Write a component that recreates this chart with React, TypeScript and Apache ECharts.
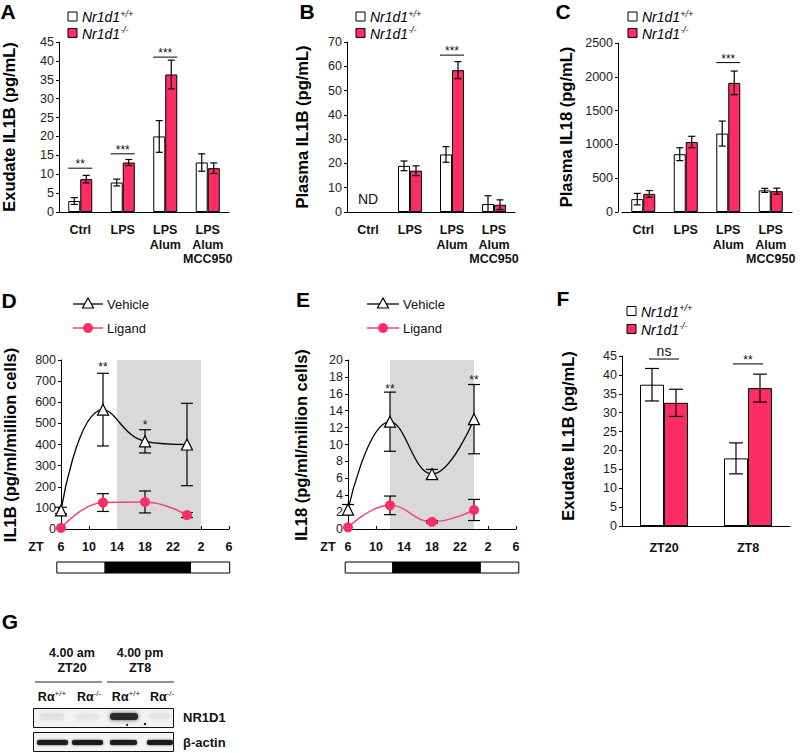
import React, { useEffect, useRef } from "react";
import * as echarts from "echarts";

const FONT = '"Liberation Sans", Arial, Helvetica, sans-serif';
const PINK = "#fb2d64";
const PINK_LINE = "#f2447c";

// ---------- data ----------
const barCategories = ["Ctrl", "LPS", "LPS\nAlum", "LPS\nAlum\nMCC950"];

// A: Exudate IL1B (pg/mL)
const aWild = [2.9, 7.8, 20.0, 13.1];
const aWildErr = [0.9, 0.9, 4.2, 2.3];
const aKO = [8.7, 13.1, 36.4, 11.6];
const aKOErr = [1.0, 0.8, 3.8, 1.4];
const aSig: [number, number, string][] = [[0, 11.6, "**"], [1, 15.4, "***"], [2, 41.0, "***"]];

// B: Plasma IL1B (pg/mL)
const bWild = [null, 19.0, 23.7, 3.3];
const bWildErr = [null, 2.0, 3.2, 3.4];
const bKO = [null, 17.0, 58.4, 3.0];
const bKOErr = [null, 2.0, 3.5, 2.0];
const bSig: [number, number, string][] = [[2, 64.6, "***"]];
const bNotDetected: [number, string][] = [[0, "ND"]];

// C: Plasma IL18 (pg/mL)
const cWild = [190, 855, 1160, 320];
const cWildErr = [85, 95, 185, 30];
const cKO = [268, 1035, 1910, 308];
const cKOErr = [50, 85, 175, 45];
const cSig: [number, number, string][] = [[2, 2210, "***"]];

// D: IL1B (pg/ml/million cells) vs ZT
const dVehicle = [[6, 88], [12, 565], [18, 415], [24, 400]];
const dVehicleErr = [15, 172, 55, 195];
const dLigand = [[6, 5], [12, 125], [18, 128], [24, 66]];
const dLigandErr = [0, 42, 52, 12];
const dStars: [number, number, string][] = [[12, 781, "**"], [18, 506, "*"]];
const dDark = [14, 26];
const dPhase = [5.4, 12.3, 24.5, 30.1];

// E: IL18 (pg/ml/million cells) vs ZT
const eVehicle = [[6, 2.3], [12, 12.7], [18, 6.5], [24, 13.0]];
const eVehicleErr = [0.6, 3.5, 0.55, 4.1];
const eLigand = [[6, 0.2], [12, 2.8], [18, 0.85], [24, 2.25]];
const eLigandErr = [0, 1.1, 0.15, 1.25];
const eStars: [number, number, string][] = [[12, 16.9, "**"], [24, 18.0, "**"]];
const eDark = [12, 24];
const ePhase = [5.6, 12.4, 24.9, 30.4];

// F: Exudate IL1B by time
const fCategories = ["ZT20", "ZT8"];
const fWild = [37.4, 17.9];
const fWildErr = [4.3, 4.1];
const fKO = [32.6, 36.5];
const fKOErr = [3.6, 3.7];
const fSig: [number, number, string][] = [[0, 44.2, "ns"], [1, 42.9, "**"]];

const ztLabel = (v: number) => String(v > 24 ? v - 24 : v);

// ---------- helpers ----------
function errData(vals: (number | null)[], errs: (number | null)[]) {
  const out: number[][] = [];
  vals.forEach((v, i) => {
    if (v != null && errs[i] != null) out.push([i, v, errs[i] as number]);
  });
  return out;
}
function xyErrData(pts: number[][], errs: number[]) {
  return pts.map((p, i) => [p[0], p[1], errs[i]]).filter((d) => d[2] > 0);
}

function errorBarSeries(xi: number, data: number[][], offset: number, cap: number, z = 5) {
  return {
    type: "custom",
    xAxisIndex: xi,
    yAxisIndex: xi,
    z,
    silent: true,
    data,
    renderItem: (params: any, api: any) => {
      const x = api.value(0);
      const v = api.value(1);
      const e = api.value(2);
      const top = api.coord([x, v + e]);
      const bot = api.coord([x, Math.max(0, v - e)]);
      const cx = top[0] + offset;
      const st = { stroke: "#000", lineWidth: 1.2 };
      return {
        type: "group",
        children: [
          { type: "line", shape: { x1: cx, y1: top[1], x2: cx, y2: bot[1] }, style: st },
          { type: "line", shape: { x1: cx - cap, y1: top[1], x2: cx + cap, y2: top[1] }, style: st },
          { type: "line", shape: { x1: cx - cap, y1: bot[1], x2: cx + cap, y2: bot[1] }, style: st },
        ],
      };
    },
  };
}

function sigSeries(xi: number, sig: [number, number, string][], half: number) {
  return {
    type: "custom",
    xAxisIndex: xi,
    yAxisIndex: xi,
    z: 6,
    silent: true,
    clip: false,
    data: sig.map((s) => [s[0], s[1]]),
    renderItem: (params: any, api: any) => {
      const p = api.coord([api.value(0), api.value(1)]);
      const txt = sig[params.dataIndex][2];
      const isNs = txt === "ns";
      return {
        type: "group",
        children: [
          { type: "line", shape: { x1: p[0] - half, y1: p[1], x2: p[0] + half, y2: p[1] }, style: { stroke: "#000", lineWidth: 1 } },
          {
            type: "text",
            x: p[0],
            y: p[1] - (isNs ? 8 : 4),
            style: {
              text: txt,
              fontFamily: FONT,
              fontSize: isNs ? 14 : 12,
              fill: "#111",
              align: "center",
              verticalAlign: "middle",
            },
          },
        ],
      };
    },
  };
}

function starSeries(xi: number, stars: [number, number, string][]) {
  return {
    type: "custom",
    xAxisIndex: xi,
    yAxisIndex: xi,
    z: 6,
    silent: true,
    clip: false,
    data: stars.map((s) => [s[0], s[1]]),
    renderItem: (params: any, api: any) => {
      const p = api.coord([api.value(0), api.value(1)]);
      return {
        type: "text",
        x: p[0],
        y: p[1] + 3,
        style: { text: stars[params.dataIndex][2], fontFamily: FONT, fontSize: 12, fill: "#111", align: "center", verticalAlign: "middle" },
      };
    },
  };
}

function phaseSeries(xi: number, edges: number[]) {
  const data = [[edges[0], edges[1], 0], [edges[1], edges[2], 1], [edges[2], edges[3], 0]];
  return {
    type: "custom",
    xAxisIndex: xi,
    yAxisIndex: xi,
    silent: true,
    clip: false,
    data,
    renderItem: (params: any, api: any) => {
      const a = api.coord([api.value(0), 0]);
      const b = api.coord([api.value(1), 0]);
      const dark = api.value(2) === 1;
      return {
        type: "rect",
        shape: { x: a[0], y: a[1] + 33, width: b[0] - a[0], height: 11 },
        style: { fill: dark ? "#000" : "#fff", stroke: "#000", lineWidth: 1 },
      };
    },
  };
}

function barAxisX(gi: number, cats: string[], margin: number) {
  return {
    gridIndex: gi,
    type: "category",
    data: cats,
    axisLine: { lineStyle: { color: "#000", width: 1 } },
    axisTick: { show: false },
    axisLabel: { color: "#111", fontFamily: FONT, fontWeight: "bold", fontSize: 12.5, lineHeight: 14.5, margin, interval: 0 },
  };
}
function valueAxisY(gi: number, max: number, interval: number, offset = 0) {
  return {
    gridIndex: gi,
    type: "value",
    min: 0,
    max,
    interval,
    offset,
    axisLine: { show: true, lineStyle: { color: "#000", width: 1 } },
    axisTick: { show: true, length: 3, lineStyle: { color: "#000" } },
    axisLabel: { color: "#222", fontFamily: FONT, fontSize: 12.5, margin: 5, formatter: (v: number) => String(v) },
    splitLine: { show: false },
  };
}
function ztAxisX(gi: number) {
  return {
    gridIndex: gi,
    type: "value",
    min: 6,
    max: 30,
    interval: 4,
    axisLine: { lineStyle: { color: "#000", width: 1 } },
    axisTick: { show: true, inside: true, length: 3, lineStyle: { color: "#000" } },
    axisLabel: { color: "#111", fontFamily: FONT, fontWeight: "bold", fontSize: 12.5, margin: 11, formatter: ztLabel },
    splitLine: { show: false },
  };
}

function barPair(gi: number, wild: any[], ko: any[], bw: number) {
  return [
    { type: "bar", xAxisIndex: gi, yAxisIndex: gi, data: wild, barWidth: bw, barGap: "0%", itemStyle: { color: "#fff", borderColor: "#000", borderWidth: 1 } },
    { type: "bar", xAxisIndex: gi, yAxisIndex: gi, data: ko, barWidth: bw, barGap: "0%", itemStyle: { color: PINK, borderColor: "#000", borderWidth: 1 } },
  ];
}

function lineSeries(gi: number, vehicle: number[][], ligand: number[][], dark: number[]) {
  return [
    {
      type: "line",
      xAxisIndex: gi,
      yAxisIndex: gi,
      data: vehicle,
      smooth: 0.45,
      z: 4,
      symbol: "triangle",
      symbolSize: 11,
      lineStyle: { color: "#000", width: 1.3 },
      itemStyle: { color: "#fff", borderColor: "#000", borderWidth: 1.2 },
      markArea: {
        silent: true,
        itemStyle: { color: "#d9d9d9" },
        data: [[{ xAxis: dark[0] }, { xAxis: dark[1] }]],
      },
    },
    {
      type: "line",
      xAxisIndex: gi,
      yAxisIndex: gi,
      data: ligand,
      smooth: 0.45,
      z: 4,
      symbol: "circle",
      symbolSize: 10,
      lineStyle: { color: PINK_LINE, width: 1.5 },
      itemStyle: { color: PINK, borderColor: PINK, borderWidth: 0 },
    },
  ];
}

// ---------- graphics ----------
function txt(x: number, y: number, text: string, opts: any = {}) {
  return {
    type: "text",
    x,
    y,
    rotation: opts.rotation || 0,
    style: {
      text,
      fontFamily: FONT,
      fontSize: opts.size || 12,
      fontWeight: opts.weight || "normal",
      fontStyle: opts.italic ? "italic" : "normal",
      fill: opts.color || "#000",
      align: opts.align || "center",
      verticalAlign: "middle",
      textAlign: opts.align || "center",
      textVerticalAlign: "middle",
    },
  };
}

function genotypeText(x: number, y: number, sup: string) {
  return {
    type: "text",
    x,
    y,
    style: {
      text: `{i|Nr1d1}{s|${sup}}`,
      align: "left",
      verticalAlign: "middle",
      rich: {
        i: { fontFamily: FONT, fontStyle: "italic", fontSize: 14, lineHeight: 15, fill: "#000", verticalAlign: "bottom" },
        s: { fontFamily: FONT, fontStyle: "italic", fontSize: 9, lineHeight: 15, fill: "#000", verticalAlign: "top" },
      },
    },
  };
}

function barLegend(sqX: number, y1: number, y2: number) {
  return [
    { type: "rect", shape: { x: sqX, y: y1 - 4.5, width: 9, height: 9 }, style: { fill: "#fff", stroke: "#000", lineWidth: 1 } },
    { type: "rect", shape: { x: sqX, y: y2 - 4.5, width: 9, height: 9 }, style: { fill: PINK, stroke: "#000", lineWidth: 1 } },
    genotypeText(sqX + 14, y1, "+/+"),
    genotypeText(sqX + 14, y2, "-/-"),
  ];
}

function lineLegend(x0: number, x1: number, y1: number, y2: number) {
  const cx = (x0 + x1) / 2;
  return [
    { type: "line", shape: { x1: x0, y1, x2: x1, y2: y1 }, style: { stroke: "#000", lineWidth: 1.3 } },
    { type: "polygon", shape: { points: [[cx, y1 - 6], [cx - 5.5, y1 + 4], [cx + 5.5, y1 + 4]] }, style: { fill: "#fff", stroke: "#000", lineWidth: 1.2 } },
    txt(x1 + 4, y1, "Vehicle", { size: 13, align: "left", color: "#111" }),
    { type: "line", shape: { x1: x0, y1: y2, x2: x1, y2 }, style: { stroke: PINK_LINE, lineWidth: 1.5 } },
    { type: "circle", shape: { cx, cy: y2, r: 5 }, style: { fill: PINK } },
    txt(x1 + 4, y2, "Ligand", { size: 13, align: "left", color: "#111" }),
  ];
}

function laneLabel(x: number, y: number, sup: string) {
  return {
    type: "text",
    x,
    y,
    style: {
      text: `{b|Rα}{s|${sup}}`,
      align: "center",
      verticalAlign: "middle",
      rich: {
        b: { fontFamily: FONT, fontWeight: "bold", fontSize: 12.5, lineHeight: 14, fill: "#111", verticalAlign: "bottom" },
        s: { fontFamily: FONT, fontWeight: "normal", fontSize: 8, lineHeight: 14, fill: "#111", verticalAlign: "top" },
      },
    },
  };
}

function blot() {
  const els: any[] = [];
  els.push(txt(72, 653, "4.00 am", { size: 12.5, weight: "bold", color: "#111" }));
  els.push(txt(72, 668, "ZT20", { size: 12.5, weight: "bold", color: "#111" }));
  els.push(txt(140, 653, "4.00 pm", { size: 12.5, weight: "bold", color: "#111" }));
  els.push(txt(140, 668, "ZT8", { size: 12.5, weight: "bold", color: "#111" }));
  els.push({ type: "line", shape: { x1: 35, y1: 682, x2: 102, y2: 682 }, style: { stroke: "#222", lineWidth: 1 } });
  els.push({ type: "line", shape: { x1: 107, y1: 682, x2: 174, y2: 682 }, style: { stroke: "#222", lineWidth: 1 } });
  els.push(laneLabel(52, 696, "+/+"));
  els.push(laneLabel(89, 696, "-/-"));
  els.push(laneLabel(126, 696, "+/+"));
  els.push(laneLabel(162, 696, "-/-"));
  // NR1D1 box
  els.push({ type: "rect", shape: { x: 33.5, y: 708.5, width: 140, height: 19 }, style: { fill: "#f3f3f3", stroke: "#111", lineWidth: 1 } });
  els.push({ type: "rect", shape: { x: 40, y: 713, width: 24, height: 7, r: 3 }, style: { fill: "#e2e2e2", shadowBlur: 4, shadowColor: "#ddd" } });
  els.push({ type: "rect", shape: { x: 76, y: 714, width: 22, height: 6, r: 3 }, style: { fill: "#e6e6e6", shadowBlur: 4, shadowColor: "#ddd" } });
  els.push({ type: "rect", shape: { x: 150, y: 713, width: 20, height: 6, r: 3 }, style: { fill: "#e4e4e4", shadowBlur: 4, shadowColor: "#ddd" } });
  els.push({ type: "rect", shape: { x: 110, y: 713, width: 28, height: 7, r: 3 }, style: { fill: "#2a2a2a", shadowBlur: 4, shadowColor: "#555" } });
  els.push({ type: "circle", shape: { cx: 127, cy: 725, r: 1 }, style: { fill: "#111" } });
  els.push({ type: "circle", shape: { cx: 145, cy: 724, r: 1.2 }, style: { fill: "#111" } });
  els.push(txt(183, 717, "NR1D1", { size: 13, weight: "bold", align: "left", color: "#111" }));
  // beta-actin box
  els.push({ type: "rect", shape: { x: 33.5, y: 732.5, width: 140, height: 19 }, style: { fill: "#f3f3f3", stroke: "#111", lineWidth: 1 } });
  const lanes = [[37, 31], [72, 31], [110, 27], [147, 26]];
  lanes.forEach(([x, w]) =>
    els.push({ type: "rect", shape: { x, y: 740, width: w, height: 5, r: 2 }, style: { fill: "#1a1a1a", shadowBlur: 2, shadowColor: "#444" } })
  );
  els.push(txt(183, 742, "β-actin", { size: 13, weight: "bold", align: "left", color: "#111" }));
  return els;
}

function buildOption() {
  const bigLetter = (x: number, y: number, s: string) => txt(x, y, s, { size: 21, weight: "bold" });
  const yTitle = (x: number, y: number, s: string) => txt(x, y, s, { size: 16.5, weight: "bold", rotation: Math.PI / 2 });

  const graphic: any[] = [
    bigLetter(8, 11, "A"),
    bigLetter(307, 11, "B"),
    bigLetter(563, 11, "C"),
    bigLetter(9, 300, "D"),
    bigLetter(303, 299, "E"),
    bigLetter(563, 298, "F"),
    bigLetter(10, 621, "G"),
    yTitle(9, 127, "Exudate IL1B (pg/mL)"),
    yTitle(302, 127, "Plasma IL1B (pg/mL)"),
    yTitle(566, 127, "Plasma IL18 (pg/mL)"),
    yTitle(10, 445, "IL1B (pg/ml/million cells)"),
    yTitle(301, 445, "IL18 (pg/ml/million cells)"),
    yTitle(568, 436, "Exudate IL1B (pg/mL)"),
    ...barLegend(68, 16.5, 33),
    ...barLegend(356, 16.5, 33),
    ...barLegend(628, 16.5, 33),
    ...barLegend(627, 311, 329),
    ...lineLegend(73, 103, 304, 328),
    ...lineLegend(367, 399, 304, 328),
    txt(36, 547, "ZT", { size: 12.5, weight: "bold", color: "#111" }),
    txt(328, 547, "ZT", { size: 12.5, weight: "bold", color: "#111" }),
    ...blot(),
  ];

  const bw = 12;
  return {
    animation: false,
    backgroundColor: "#fff",
    textStyle: { fontFamily: FONT },
    grid: [
      { left: 59, top: 42, width: 170, height: 170 },
      { left: 347, top: 42, width: 168, height: 170 },
      { left: 622, top: 43, width: 170, height: 169 },
      { left: 61, top: 360, width: 168, height: 169 },
      { left: 348, top: 360, width: 168, height: 169 },
      { left: 622, top: 356, width: 168, height: 170 },
    ],
    xAxis: [
      barAxisX(0, barCategories, 11),
      barAxisX(1, barCategories, 11),
      barAxisX(2, barCategories, 11),
      ztAxisX(3),
      ztAxisX(4),
      barAxisX(5, fCategories, 15),
    ],
    yAxis: [
      valueAxisY(0, 45, 5),
      valueAxisY(1, 70, 10),
      valueAxisY(2, 2500, 500, 4),
      valueAxisY(3, 800, 100),
      valueAxisY(4, 20, 2),
      valueAxisY(5, 45, 5),
    ],
    series: [
      ...barPair(0, aWild, aKO, bw),
      errorBarSeries(0, errData(aWild, aWildErr), -bw / 2, 3.5),
      errorBarSeries(0, errData(aKO, aKOErr), bw / 2, 3.5),
      sigSeries(0, aSig, bw),

      ...barPair(1, bWild, bKO, bw),
      errorBarSeries(1, errData(bWild, bWildErr), -bw / 2, 3.5),
      errorBarSeries(1, errData(bKO, bKOErr), bw / 2, 3.5),
      sigSeries(1, bSig, bw),
      {
        type: "custom",
        xAxisIndex: 1,
        yAxisIndex: 1,
        silent: true,
        data: bNotDetected.map((d) => [d[0], 0]),
        renderItem: (params: any, api: any) => {
          const p = api.coord([api.value(0), 0]);
          return {
            type: "text",
            x: p[0],
            y: p[1] - 13,
            style: { text: bNotDetected[params.dataIndex][1], fontFamily: FONT, fontSize: 14, fill: "#111", align: "center", verticalAlign: "middle" },
          };
        },
      },

      ...barPair(2, cWild, cKO, bw),
      errorBarSeries(2, errData(cWild, cWildErr), -bw / 2, 3.5),
      errorBarSeries(2, errData(cKO, cKOErr), bw / 2, 3.5),
      sigSeries(2, cSig, bw),

      ...lineSeries(3, dVehicle, dLigand, dDark),
      errorBarSeries(3, xyErrData(dVehicle, dVehicleErr), 0, 6, 3),
      errorBarSeries(3, xyErrData(dLigand, dLigandErr), 0, 6, 3),
      starSeries(3, dStars),
      phaseSeries(3, dPhase),

      ...lineSeries(4, eVehicle, eLigand, eDark),
      errorBarSeries(4, xyErrData(eVehicle, eVehicleErr), 0, 6, 3),
      errorBarSeries(4, xyErrData(eLigand, eLigandErr), 0, 6, 3),
      starSeries(4, eStars),
      phaseSeries(4, ePhase),

      ...barPair(5, fWild, fKO, 24),
      errorBarSeries(5, errData(fWild, fWildErr), -12, 7),
      errorBarSeries(5, errData(fKO, fKOErr), 12, 7),
      sigSeries(5, fSig, 15),
    ],
    graphic,
  };
}

export default function App() {
  const ref = useRef<HTMLDivElement>(null);
  useEffect(() => {
    document.body.style.margin = "0";
    if (!ref.current) return;
    const chart = echarts.init(ref.current, undefined, { renderer: "svg" });
    chart.setOption(buildOption() as any);
    return () => chart.dispose();
  }, []);
  return <div ref={ref} style={{ position: "absolute", left: 0, top: 0, width: 800, height: 753 }} />;
}
